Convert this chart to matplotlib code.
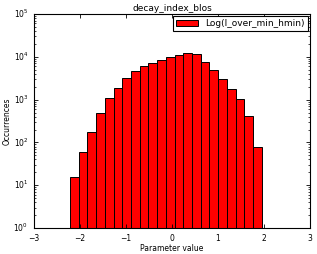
import matplotlib

matplotlib.use("Agg")
import matplotlib.pyplot as plt
import numpy as np

# histogram counts (22 bins)
bin_left = -2.217
bin_width = 0.1895
counts = [16, 59, 176, 487, 1072, 1900, 3140, 4570, 5970, 7130, 8530,
          9680, 11200, 12460, 11800, 7530, 4820, 2970, 1766, 1016, 424, 78]
series_label = "Log(l_over_min_hmin)"
title = "decay_index_blos"
x_ticks = [-3, -2, -1, 0, 1, 2, 3]

plt.style.use("classic")
plt.rcParams["figure.facecolor"] = "white"
plt.rcParams["font.size"] = 5

edges = bin_left + bin_width * np.arange(len(counts) + 1)
centers = 0.5 * (edges[:-1] + edges[1:])

fig = plt.figure(figsize=(3.17, 2.54), dpi=100)
ax = fig.add_axes([0.107, 0.102, 0.871, 0.843])
ax.hist(centers, bins=edges, weights=counts, color="red", edgecolor="black",
        linewidth=0.7, log=True, label=series_label)
ax.set_xlim(-3, 3)
ax.set_ylim(1, 1e5)
ax.set_xticks(x_ticks)
ax.tick_params(labelsize=5.5, length=3, width=0.6)
ax.tick_params(which="minor", length=1.5, width=0.5)
for sp in ax.spines.values():
    sp.set_linewidth(0.8)
ax.set_title(title, fontsize=6.5, pad=2)
ax.set_xlabel("Parameter value", fontsize=5.5, labelpad=1)
ax.set_ylabel("Occurrences", fontsize=5.5, labelpad=1)
leg = ax.legend(loc="upper right", fontsize=6.5, borderaxespad=0.25,
                handlelength=2.5, borderpad=0.3, fancybox=False)
leg.get_frame().set_linewidth(0.8)

fig.savefig("out.png", dpi=100)
